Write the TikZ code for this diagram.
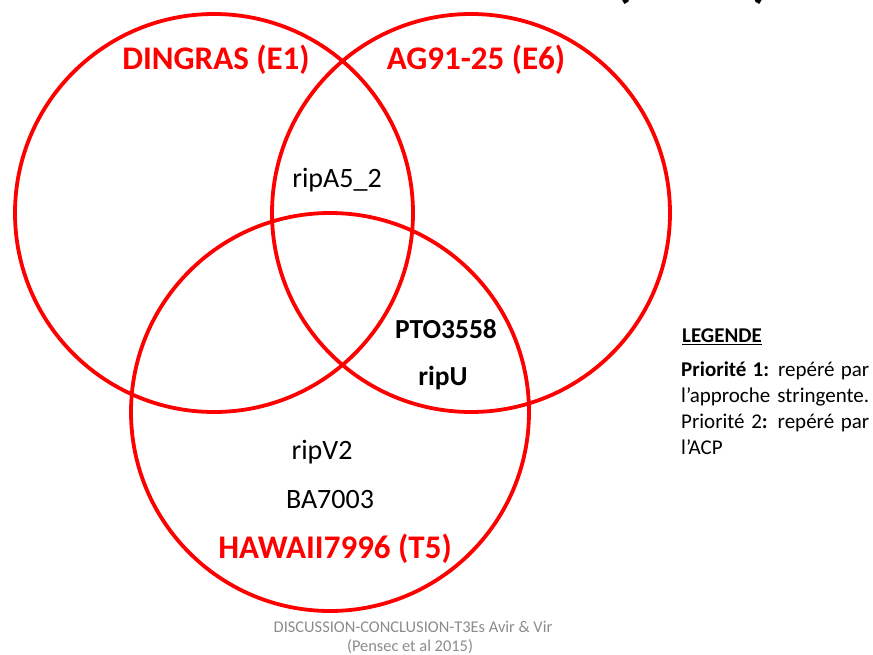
\documentclass[tikz,border=0pt]{standalone}
\usepackage{fontspec}
\setmainfont{Carlito}
\definecolor{vred}{RGB}{255,0,0}
\definecolor{foot}{RGB}{140,140,140}
\begin{document}
\begin{tikzpicture}[x=1pt,y=-1pt,
  ring/.style={draw=vred,line width=3.8pt},
  title/.style={text=vred,font=\fontsize{33}{37}\selectfont\bfseries,inner sep=0},
  gene/.style={text=black,font=\fontsize{28}{32}\selectfont,inner sep=0},
  bgene/.style={text=black,font=\fontsize{27.5}{32}\selectfont\bfseries,inner sep=0},
  paren/.style={text=black,font=\fontsize{60}{66}\selectfont\bfseries,inner sep=0,anchor=base},
  footer/.style={text=foot,font=\fontsize{16.4}{19}\selectfont,inner sep=0}]
\useasboundingbox (0,0) rectangle (873,655);
\fill[white] (0,0) rectangle (873,655);
% circles
\node[ring,circle,minimum size=398pt,inner sep=0] (c1) at (214,213) {};
\node[ring,circle,minimum size=398pt,inner sep=0] (c2) at (471,213) {};
\node[ring,circle,minimum size=398pt,inner sep=0] (c3) at (330,412) {};
% titles
\node[title] (t1) at (216,60) {DINGRAS (E1)};
\node[title] (t2) at (476,60) {AG91-25 (E6)};
\node[title] (t3) at (335,549) {HAWAII7996 (T5)};
% genes
\node[gene] (g1) at (337,180) {ripA5\_2};
\node[bgene] (g2) at (446,329) {PTO3558};
\node[bgene] (g3) at (443,378) {ripU};
\node[gene] (g4) at (322,452) {ripV2};
\node[gene] (g5) at (330,500) {BA7003};
% cut-off heading parentheses
\node[paren] (p1) at (623,-4) {(};
\node[paren] (p2) at (762,-4) {)};
% legend
\node[inner sep=0,font=\fontsize{21}{24}\selectfont\bfseries] (leg) at (722,337) {\underline{LEGENDE}};
\node[inner sep=0,anchor=north west,text width=188pt,align=justify,
      font=\fontsize{21}{26}\selectfont] (legtxt) at (681,362)
  {\textbf{Priorité 1:} repéré par\linebreak l’approche stringente.\linebreak Priorité 2\textbf{:} repéré par\linebreak l’ACP};
% footer
\node[footer] (f1) at (413,627) {DISCUSSION-CONCLUSION-T3Es Avir \& Vir};
\node[footer] (f2) at (410,647) {(Pensec et al 2015)};
\end{tikzpicture}
\end{document}
